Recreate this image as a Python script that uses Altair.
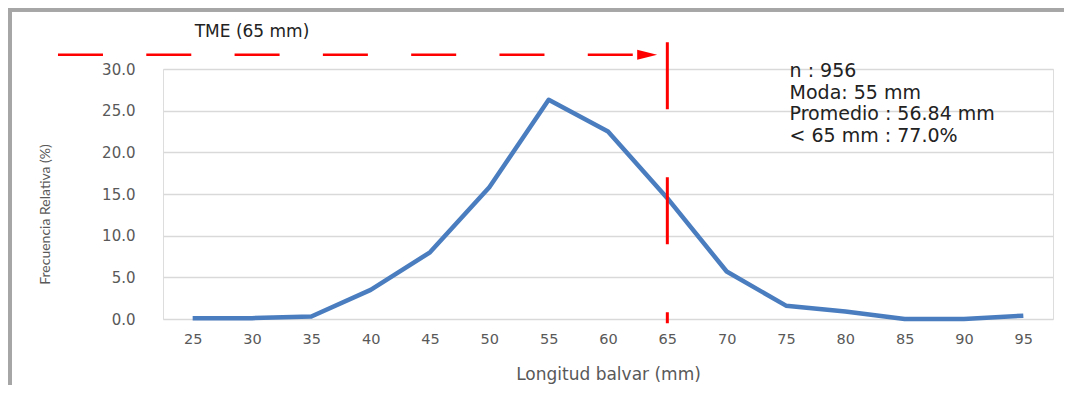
import altair as alt
import pandas as pd

# Data
lengths = [25, 30, 35, 40, 45, 50, 55, 60, 65, 70, 75, 80, 85, 90, 95]
freq = [0.1, 0.1, 0.3, 3.5, 8.0, 15.8, 26.3, 22.5, 14.5, 5.7, 1.6, 0.9, 0.0, 0.0, 0.4]
y_ticks = [0, 5, 10, 15, 20, 25, 30]

tme_value = 65
tme_label = "TME (65 mm)"
stats_lines = ["n : 956", "Moda: 55 mm", "Promedio : 56.84 mm", "< 65 mm : 77.0%"]

# annotation anchors (data units)
arrow_start_x = 13.65
arrow_end_x = 64.1
arrow_head_x = 63.3
arrow_y = 31.7
tme_rule_top = 33.2
tme_rule_bottom = -0.5
tme_text_x = 30
tme_text_y = 34.4
stats_x = 75.3
stats_y = 29.05

FONT = "DejaVu Sans"
X_DOMAIN = [22.5, 97.5]
Y_DOMAIN = [0, 30]

df = pd.DataFrame({"len": lengths, "freq": freq})

xs = alt.Scale(domain=X_DOMAIN, nice=False, zero=False)
ys = alt.Scale(domain=Y_DOMAIN, nice=False)

base_x = alt.X(
    "len:Q", scale=xs,
    axis=alt.Axis(
        values=lengths, grid=False, domain=False, ticks=False, tickSize=0,
        labelPadding=13, labelFontSize=14.5, labelColor="#595959", labelFont=FONT,
        title="Longitud balvar (mm)", titleFontSize=17, titleColor="#595959",
        titleFont=FONT, titleFontWeight="normal", titleY=55, titleBaseline="middle",
    ),
)
base_y = alt.Y(
    "freq:Q", scale=ys,
    axis=alt.Axis(
        values=y_ticks, format=".1f", domain=False, ticks=False, tickSize=0,
        labelPadding=28, labelFontSize=15, labelColor="#595959", labelFont=FONT,
        gridColor="#d9d9d9", gridWidth=1.5,
        title="Frecuencia Relativa (%)", titleFontSize=14, titleColor="#595959",
        titleFont="Lato", titleFontWeight="normal", titleAngle=270,
        titleX=-118, titleY=145, titleAlign="center", titleBaseline="middle",
    ),
)

line = alt.Chart(df).mark_line(color="#4a7dbf", strokeWidth=4.5, strokeJoin="round").encode(
    x=base_x, y=base_y
)

ann = pd.DataFrame({
    "x": [tme_value], "y": [tme_rule_top], "y2": [tme_rule_bottom],
})
vrule = alt.Chart(ann).mark_rule(color="#ff0000", strokeWidth=3, strokeDash=[67, 68]).encode(
    x=alt.X("x:Q", scale=xs), y=alt.Y("y:Q", scale=ys), y2="y2:Q"
)

arr = pd.DataFrame({"x": [arrow_start_x], "x2": [arrow_end_x], "y": [arrow_y]})
hrule = alt.Chart(arr).mark_rule(color="#ff0000", strokeWidth=2.5, strokeDash=[45, 43.3]).encode(
    x=alt.X("x:Q", scale=xs), x2="x2:Q", y=alt.Y("y:Q", scale=ys)
)

head = pd.DataFrame({"x": [arrow_head_x], "y": [arrow_y]})
arrowhead = alt.Chart(head).mark_point(
    shape="M-1,-0.5L1,0L-1,0.5Z", filled=True, color="#ff0000", size=400, opacity=1
).encode(x=alt.X("x:Q", scale=xs), y=alt.Y("y:Q", scale=ys))

tme_df = pd.DataFrame({"x": [tme_text_x], "y": [tme_text_y], "t": [tme_label]})
tme_text = alt.Chart(tme_df).mark_text(
    font=FONT, fontSize=17, color="#222222", align="center", baseline="middle"
).encode(x=alt.X("x:Q", scale=xs), y=alt.Y("y:Q", scale=ys), text="t:N")

st_df = pd.DataFrame({"x": [stats_x], "y": [stats_y], "t": ["\n".join(stats_lines)]})
stats_text = alt.Chart(st_df).mark_text(
    font=FONT, fontSize=19, color="#222222", align="left", baseline="alphabetic",
    lineBreak="\n", lineHeight=21.7,
).encode(x=alt.X("x:Q", scale=xs), y=alt.Y("y:Q", scale=ys), text="t:N")

frame_top = alt.Chart(df).mark_rule(color="#a6a6a6", strokeWidth=3.5).encode(
    x=alt.value(-153), x2=alt.value(909), y=alt.value(-59.5)
)
frame_left = alt.Chart(df).mark_rule(color="#a6a6a6", strokeWidth=3.5).encode(
    x=alt.value(-153), y=alt.value(-61), y2=alt.value(330)
)

chart = alt.layer(
    line, vrule, hrule, arrowhead, tme_text, stats_text, frame_top, frame_left
).properties(
    width=890, height=250,
    autosize=alt.AutoSizeParams(type="none"),
    padding={"left": 155, "top": 61, "right": 11, "bottom": 66},
).configure_view(stroke=None).configure(background="white")

chart.save("out.html", embed_options={"renderer": "svg", "actions": False})
